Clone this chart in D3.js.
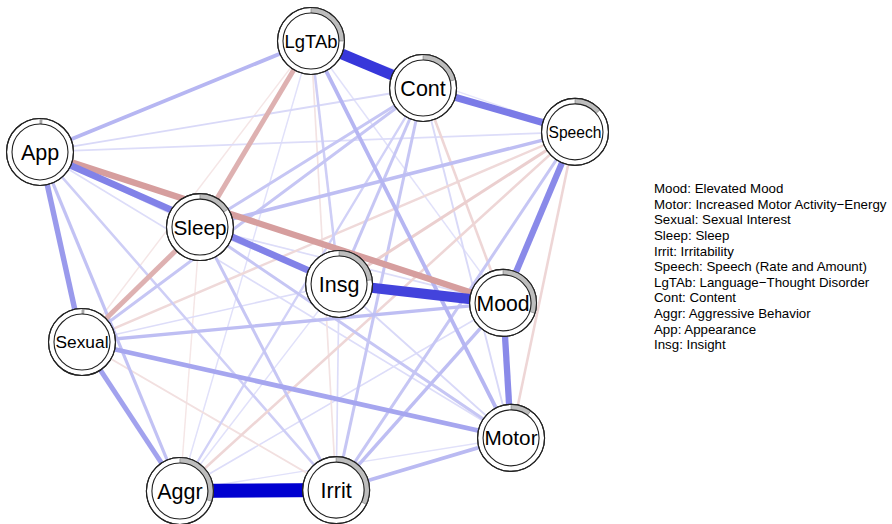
<!DOCTYPE html>
<html>
<head>
<meta charset="utf-8">
<script src="https://cdn.jsdelivr.net/npm/d3@7"></script>
<style>
  body { margin: 0; background: #fff; }
</style>
</head>
<body>
<script>
const w = 892;
const h = 524;

// node names and layout (qgraph-style coordinates, -1..1)
const nodes = ["Mood", "Motor", "Sexual", "Sleep", "Irrit", "Speech", "LgTAb", "Cont", "Aggr", "App", "Insg"];
const layoutX = [0.731, 0.761, -0.843, -0.402, 0.107, 1.0, 0.013, 0.432, -0.477, -1.0, 0.118];
const layoutY = [-0.164, -0.764, -0.338, 0.173, -0.996, 0.596, 1.0, 0.791, -1.0, 0.507, -0.08];
// predictability (grey pie)
const predictability = [0.30, 0.10, 0.01, 0.16, 0.32, 0.135, 0.25, 0.21, 0.30, 0.01, 0.23];

const legendLabels = [
  "Mood: Elevated Mood",
  "Motor: Increased Motor Activity\u2212Energy",
  "Sexual: Sexual Interest",
  "Sleep: Sleep",
  "Irrit: Irritability",
  "Speech: Speech (Rate and Amount)",
  "LgTAb: Language\u2212Thought Disorder",
  "Cont: Content",
  "Aggr: Aggressive Behavior",
  "App: Appearance",
  "Insg: Insight"
];

// edges (partial correlations)
const edgeFrom = [
  "Mood", "Mood", "Mood", "Mood", "Mood", "Mood", "Mood", "Mood", "Mood", "Mood",
  "Motor", "Motor", "Motor", "Motor", "Motor", "Motor", "Motor", "Motor", "Motor",
  "Sexual", "Sexual", "Sexual", "Sexual", "Sexual", "Sexual", "Sexual", "Sexual",
  "Sleep", "Sleep", "Sleep", "Sleep", "Sleep", "Sleep", "Sleep",
  "Irrit", "Irrit", "Irrit", "Irrit", "Irrit", "Irrit",
  "Speech", "Speech", "Speech", "Speech", "Speech",
  "LgTAb", "LgTAb", "LgTAb", "LgTAb",
  "Cont", "Cont", "Cont",
  "Aggr", "Aggr",
  "App"
];
const edgeTo = [
  "Motor", "Sexual", "Sleep", "Irrit", "Speech", "LgTAb", "Cont", "Aggr", "App", "Insg",
  "Sexual", "Sleep", "Irrit", "Speech", "LgTAb", "Cont", "Aggr", "App", "Insg",
  "Sleep", "Irrit", "Speech", "LgTAb", "Cont", "Aggr", "App", "Insg",
  "Irrit", "Speech", "LgTAb", "Cont", "Aggr", "App", "Insg",
  "Speech", "LgTAb", "Cont", "Aggr", "App", "Insg",
  "LgTAb", "Cont", "Aggr", "App", "Insg",
  "Cont", "Aggr", "App", "Insg",
  "Aggr", "App", "Insg",
  "App", "Insg",
  "Insg"
];
const edgeWeight = [
  0.25, 0.12, 0.04, 0.12, 0.25, 0.03, -0.08, 0.04, -0.25, 0.43,
  0.18, 0.10, 0.13, -0.08, 0.14, 0.05, 0.03, 0.04, 0.05,
  -0.19, -0.05, -0.07, -0.03, 0.10, 0.19, 0.21, 0.04,
  0.10, 0.12, -0.19, 0.10, -0.03, 0.05, 0.05,
  0.10, -0.04, 0.10, 0.60, 0.08, 0.04,
  0.02, 0.29, -0.08, 0.04, -0.10,
  0.46, 0.03, 0.14, 0.08,
  0.07, 0.05, 0.10,
  0.11, 0.03,
  0.27
];

const rOuter = 33.5;
const rInner = 28;

const x = d3.scaleLinear().domain([-1, 1]).range([40, 575]);
const y = d3.scaleLinear().domain([-1, 1]).range([491, 41]);

const maxW = d3.max(edgeWeight, d => Math.abs(d));
const widthScale = d3.scaleLinear().domain([0, maxW]).range([0.8, 14]);
const fadeScale = d3.scaleLinear().domain([0, maxW]).range([0.07, 1]);
const posCol = d3.interpolateRgb("#ffffff", "#0000d0");
const negCol = d3.interpolateRgb("#ffffff", "#a52a2a");

const pos = {};
nodes.forEach((n, i) => { pos[n] = { x: x(layoutX[i]), y: y(layoutY[i]) }; });

const edges = edgeFrom.map((f, i) => ({ from: f, to: edgeTo[i], w: edgeWeight[i] }))
  .sort((a, b) => Math.abs(a.w) - Math.abs(b.w));

const svg = d3.select("body").append("svg").attr("width", w).attr("height", h);

// edges
svg.append("g")
  .selectAll("line")
  .data(edges)
  .enter()
  .append("line")
  .attr("x1", d => pos[d.from].x)
  .attr("y1", d => pos[d.from].y)
  .attr("x2", d => pos[d.to].x)
  .attr("y2", d => pos[d.to].y)
  .attr("stroke-width", d => widthScale(Math.abs(d.w)))
  .attr("stroke", d => (d.w > 0 ? posCol : negCol)(fadeScale(Math.abs(d.w))));

// nodes
const node = svg.append("g")
  .selectAll("g")
  .data(nodes)
  .enter()
  .append("g")
  .attr("transform", d => "translate(" + pos[d].x + "," + pos[d].y + ")");

node.append("circle")
  .attr("r", rOuter)
  .attr("fill", "#fff")
  .attr("stroke", "#222")
  .attr("stroke-width", 1.1);

const arc = d3.arc().innerRadius(rInner).outerRadius(rOuter).startAngle(0);
node.append("path")
  .attr("d", (d, i) => arc({ endAngle: 2 * Math.PI * predictability[i] }))
  .attr("fill", "#bdbdbd")
  .attr("stroke", "#777")
  .attr("stroke-width", 0.6);

node.append("circle")
  .attr("r", rOuter)
  .attr("fill", "none")
  .attr("stroke", "#222")
  .attr("stroke-width", 1.1);

node.append("circle")
  .attr("r", rInner)
  .attr("fill", "#fff")
  .attr("stroke", "#222")
  .attr("stroke-width", 1.1);

node.append("text")
  .text(d => d)
  .attr("font-family", "'Liberation Sans', Arial, Helvetica, sans-serif")
  .attr("font-size", "20px")
  .attr("text-anchor", "middle")
  .attr("dy", "0.36em")
  .attr("fill", "#000")
  .each(function () {
    const len = this.getComputedTextLength();
    const size = Math.min(21.5, 20 * 53 / len);
    d3.select(this).attr("font-size", size + "px");
  });

// legend
svg.append("g")
  .selectAll("text")
  .data(legendLabels)
  .enter()
  .append("text")
  .text(d => d)
  .attr("x", 654)
  .attr("y", (d, i) => 188.5 + i * 15.6)
  .attr("dy", "0.35em")
  .attr("font-family", "'Liberation Sans', Arial, Helvetica, sans-serif")
  .attr("font-size", "13.3px")
  .attr("fill", "#000");
</script>
</body>
</html>
